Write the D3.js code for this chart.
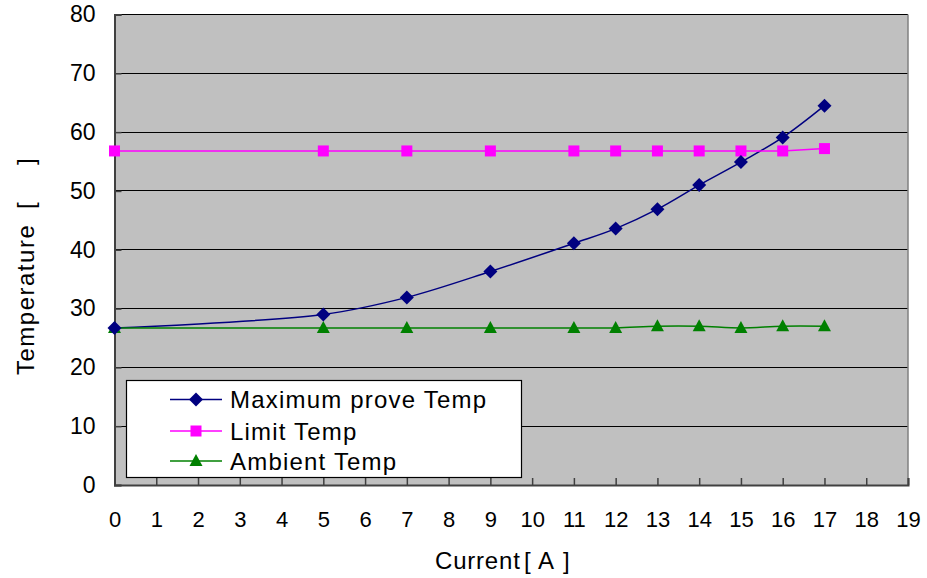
<!DOCTYPE html>
<html><head><meta charset="utf-8">
<script src="https://cdn.jsdelivr.net/npm/d3@7"></script>
<style>body{margin:0;background:#fff}svg{display:block;font-family:"Liberation Sans",Arial,sans-serif}</style>
</head><body><svg id="c" width="927" height="578"></svg>
<script>
const xTicks = d3.range(0, 20);
const yTicks = [0,10,20,30,40,50,60,70,80];
const currents = [0,5,7,9,11,12,13,14,15,16,17];
const maxTemp = [26.7,29.0,31.9,36.3,41.1,43.6,46.9,51.0,54.9,59.1,64.5];
const limitTemp = [56.8,56.8,56.8,56.8,56.8,56.8,56.8,56.8,56.8,56.8,57.2];
const ambientTemp = [26.7,26.7,26.7,26.7,26.7,26.7,27.0,27.0,26.7,27.0,27.0];
const seriesNames = ["Maximum prove Temp","Limit Temp","Ambient Temp"];
const seriesColors = ["#000080","#FF00FF","#008000"];

const svg = d3.select("#c");
const L=114.5, R=908, T=14.5, B=485;
const x = d3.scaleLinear().domain([0,19]).range([L,R]);
const y = d3.scaleLinear().domain([0,80]).range([B,T]);

svg.append("rect").attr("x",L).attr("y",T).attr("width",R-L).attr("height",B-T).attr("fill","#C0C0C0");
svg.append("g").selectAll("line").data(yTicks.filter(d=>d>0)).join("line")
  .attr("x1",L).attr("x2",R).attr("y1",d=>y(d)).attr("y2",d=>y(d))
  .attr("stroke","#000").attr("stroke-width",1).attr("shape-rendering","crispEdges");
svg.append("line").attr("x1",R).attr("x2",R).attr("y1",T).attr("y2",B).attr("stroke","#808080").attr("stroke-width",1.5);

const yAxis = d3.axisLeft(y).tickValues(yTicks).tickSize(-7).tickPadding(19).tickFormat(d3.format("d"));
const gy = svg.append("g").attr("transform",`translate(${L},0)`).call(yAxis);
gy.select(".domain").attr("stroke","#404040").attr("stroke-width",2);
gy.selectAll(".tick line").attr("stroke","#404040").attr("stroke-width",1.5);
gy.selectAll("text").attr("font-size",23).attr("fill","#000").attr("font-family","Liberation Sans, Arial");

const xAxis = d3.axisBottom(x).tickValues(xTicks).tickSize(-7).tickPadding(26).tickFormat(d3.format("d"));
const gx = svg.append("g").attr("transform",`translate(0,${B})`).call(xAxis);
gx.select(".domain").attr("stroke","#404040").attr("stroke-width",2);
gx.selectAll(".tick line").attr("stroke","#404040").attr("stroke-width",1.5);
gx.selectAll("text").attr("font-size",22).attr("fill","#000").attr("font-family","Liberation Sans, Arial");

const data = [maxTemp, limitTemp, ambientTemp];
const curves = [d3.curveCatmullRom.alpha(0.5), d3.curveLinear, d3.curveCatmullRom.alpha(0.5)];
data.forEach((vals,i)=>{
  const pts = currents.map((c,j)=>[c,vals[j]]);
  svg.append("path").datum(pts)
    .attr("d", d3.line().x(d=>x(d[0])).y(d=>y(d[1])).curve(curves[i]))
    .attr("fill","none").attr("stroke",seriesColors[i]).attr("stroke-width",1.5);
});
function marker(g, type, cx, cy, color){
  if(type===0){
    g.append("path").attr("d",`M${cx},${cy-7}L${cx+7},${cy}L${cx},${cy+7}L${cx-7},${cy}Z`).attr("fill",color);
  } else if(type===1){
    g.append("rect").attr("x",cx-5.5).attr("y",cy-5.5).attr("width",11).attr("height",11).attr("fill",color);
  } else {
    g.append("path").attr("d",`M${cx},${cy-7}L${cx+6.5},${cy+5}L${cx-6.5},${cy+5}Z`).attr("fill",color);
  }
}
const mg = svg.append("g");
[2,1,0].forEach(i=>{
  currents.forEach((c,j)=>marker(mg,i,x(c),y(data[i][j]),seriesColors[i]));
});

const lg = svg.append("g");
lg.append("rect").attr("x",126.5).attr("y",380.5).attr("width",395).attr("height",97)
  .attr("fill","#fff").attr("stroke","#000").attr("stroke-width",1.2);
const rowY = [399.5,431,461];
seriesNames.forEach((n,i)=>{
  lg.append("line").attr("x1",170).attr("x2",222).attr("y1",rowY[i]).attr("y2",rowY[i]).attr("stroke",seriesColors[i]).attr("stroke-width",1.5);
  marker(lg,i,196,rowY[i],seriesColors[i]);
  lg.append("text").attr("x",230).attr("y",rowY[i]+8.5).attr("font-size",24).attr("letter-spacing",1.2).attr("fill","#000").text(n);
});

svg.append("text").attr("x",435).attr("y",569).attr("font-size",24).attr("letter-spacing",0.8).text("Current");
svg.append("text").attr("x",524).attr("y",569).attr("font-size",24).text("[");
svg.append("text").attr("x",538).attr("y",569).attr("font-size",24).text("A");
svg.append("text").attr("x",563).attr("y",569).attr("font-size",24).text("]");

const yl = svg.append("g").attr("transform","translate(34,375) rotate(-90)");
yl.append("text").attr("x",0).attr("y",0).attr("font-size",24).attr("letter-spacing",1.5).text("Temperature");
yl.append("text").attr("x",166).attr("y",0).attr("font-size",24).text("[");
yl.append("text").attr("x",210).attr("y",0).attr("font-size",24).text("]");
</script></body></html>
